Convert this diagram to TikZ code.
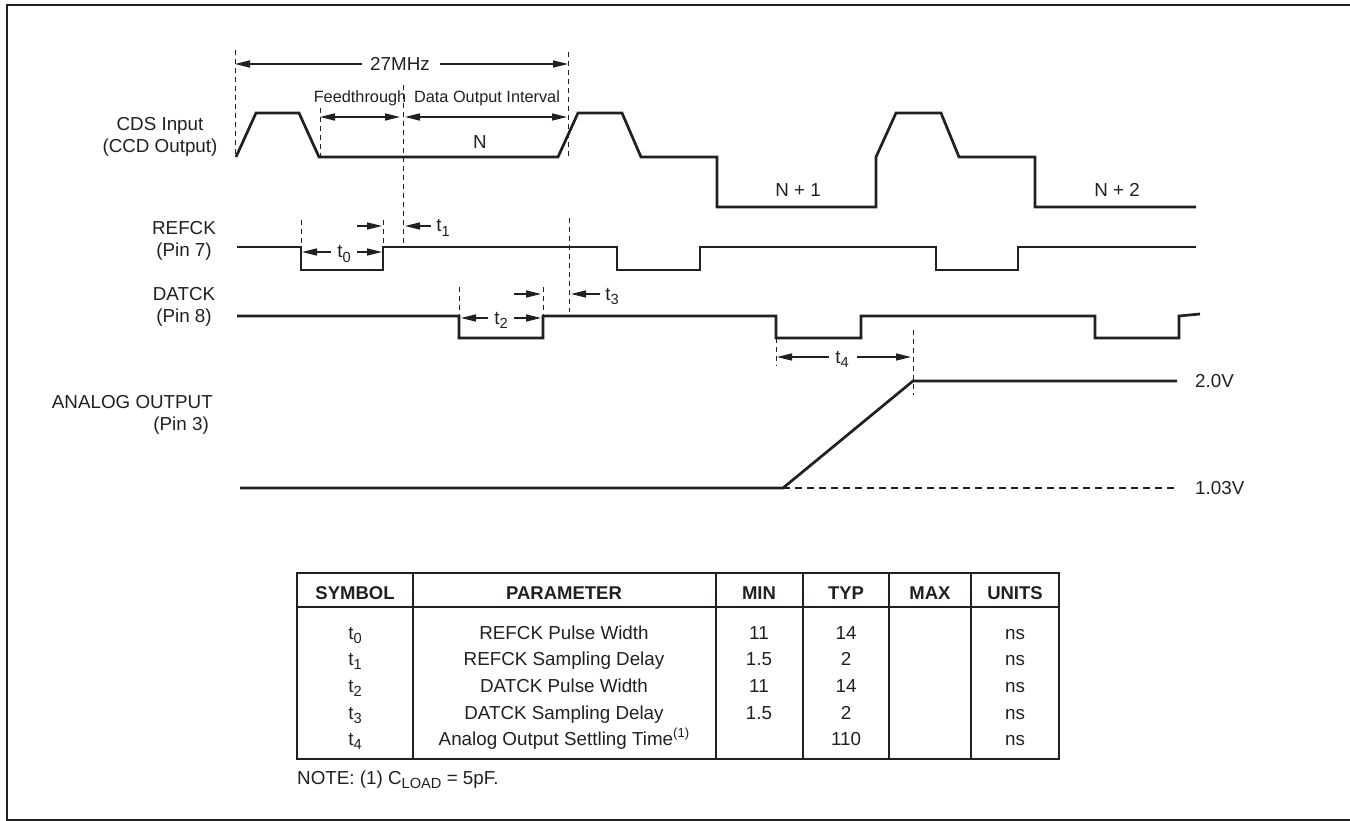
\documentclass[tikz,border=0pt]{standalone}
\usepackage{fontspec}
\setmainfont{Liberation Sans}
\usetikzlibrary{arrows.meta}
\definecolor{ink}{RGB}{35,31,32}
\newcommand{\tsub}[1]{\raisebox{-0.45ex}{\scalebox{0.78}{#1}}}
\newcommand{\tsup}[1]{\raisebox{0.75ex}{\scalebox{0.7}{#1}}}
\begin{document}
\begin{tikzpicture}[x=1pt,y=-1pt,
  wave/.style={ink,line width=2.7pt,line join=miter},
  guide/.style={ink,line width=0.9pt,dash pattern=on 5pt off 4pt},
  dim/.style={ink,line width=1.4pt,-{Triangle[length=15pt,width=7pt]}},
  ddim/.style={ink,line width=1.4pt,{Triangle[length=15pt,width=7pt]}-{Triangle[length=15pt,width=7pt]}},
  lbl/.style={text=ink,font=\fontsize{18.8}{22}\selectfont,inner sep=0pt,anchor=base},
  sm/.style={text=ink,font=\fontsize{16.3}{19}\selectfont,inner sep=0pt,anchor=base},
  tabtxt/.style={text=ink,font=\fontsize{18.8}{22}\selectfont,inner sep=0pt,anchor=base},
  tabhead/.style={text=ink,font=\fontsize{18.5}{22}\selectfont\bfseries,inner sep=0pt,anchor=base},
  heavy/.style={ink,line width=2.8pt},
  light/.style={ink,line width=1.6pt}
]
\useasboundingbox (0,0) rectangle (1350,821);
% frame
\draw[ink,line width=2.6pt] (1352,5) -- (7,5) -- (7,820) -- (1352,820);

% waveforms
\draw[wave] (236,157) -- (256,113) -- (299,113) -- (319,157) -- (558,157) -- (578,113) -- (622,113) -- (641,157) -- (717,157) -- (717,207) -- (876,207) -- (876,157) -- (896,113) -- (941,113) -- (959,157) -- (1035,157) -- (1035,207) -- (1196,207);
\draw[wave] (237,247) -- (301,247) -- (301,270) -- (383,270) -- (383,247) -- (617,247) -- (617,270) -- (700,270) -- (700,247) -- (936,247) -- (936,270) -- (1018,270) -- (1018,247) -- (1196,247);
\draw[wave] (237,316) -- (459,316) -- (459,338) -- (543,338) -- (543,316) -- (776,316) -- (776,338) -- (861,338) -- (861,316) -- (1095,316) -- (1095,338) -- (1179,338) -- (1179,316) -- (1200,314);
\draw[wave] (240,488) -- (783,488) -- (913,381) -- (1177,381);
\draw[ink,line width=2.6pt,dash pattern=on 7pt off 5pt] (783,488) -- (1177,488);

% guide lines
\draw[guide] (235,50) -- (235,158);
\draw[guide] (568,52) -- (568,156);
\draw[guide] (320,108) -- (320,157);
\draw[guide] (403,85) -- (403,247);
\draw[guide] (301,220) -- (301,247);
\draw[guide] (383,220) -- (383,247);
\draw[guide] (569,218) -- (569,312);
\draw[guide] (459,287) -- (459,316);
\draw[guide] (543,287) -- (543,316);
\draw[guide] (776,338) -- (776,366);
\draw[guide] (913,330) -- (913,395);

% dimension arrows
\node[lbl] (mhz) at (400,71) {27MHz};
\draw[dim] (362,64) -- (235,64);
\draw[dim] (440,64) -- (568,64);
\node[sm] (feed) at (360,103) {Feedthrough};
\node[sm] (doi) at (487,103) {Data Output Interval};
\draw[ddim] (320,117) -- (400,117);
\draw[ddim] (405,117) -- (567,117);
\node[lbl] (n0) at (480,149) {N};
\node[lbl] (n1) at (798,197) {N + 1};
\node[lbl] (n2) at (1117,197) {N + 2};

\node[lbl] (t0) at (344,258) {t\tsub{0}};
\draw[dim] (331,252) -- (302,252);
\draw[dim] (357,252) -- (382,252);
\draw[dim] (357,226) -- (382,226);
\draw[dim] (431,226) -- (405,226);
\node[lbl] (t1) at (443,232) {t\tsub{1}};

\node[lbl] (t2) at (501,324) {t\tsub{2}};
\draw[dim] (488,318) -- (461,318);
\draw[dim] (514,318) -- (541,318);
\draw[dim] (514,294) -- (541,294);
\draw[dim] (600,294) -- (571,294);
\node[lbl] (t3) at (612,300) {t\tsub{3}};

\node[lbl] (t4) at (842,363) {t\tsub{4}};
\draw[dim] (829,357) -- (777,357);
\draw[dim] (857,357) -- (911,357);

% signal labels
\node[lbl] (cds1) at (160,131) {CDS Input};
\node[lbl] (cds2) at (160,153) {(CCD Output)};
\node[lbl] (ref1) at (184,235) {REFCK};
\node[lbl] (ref2) at (184,257) {(Pin 7)};
\node[lbl] (dat1) at (184,300) {DATCK};
\node[lbl] (dat2) at (184,323) {(Pin 8)};
\node[lbl,anchor=base east] (ana1) at (213,408) {ANALOG OUTPUT};
\node[lbl,anchor=base east] (ana2) at (209,430) {(Pin 3)};
\node[lbl,anchor=base west] (v2) at (1195,387) {2.0V};
\node[lbl,anchor=base west] (v1) at (1195,494) {1.03V};

% table
\draw[heavy] (297,573) rectangle (1059,759);
\draw[heavy] (297,607) -- (1059,607);
\draw[heavy] (413,573) -- (413,759);
\draw[heavy] (716,573) -- (716,759);
\draw[light] (803,573) -- (803,759);
\draw[light] (889,573) -- (889,759);
\draw[heavy] (971,573) -- (971,759);

\node[tabhead] (hs) at (355,599) {SYMBOL};
\node[tabhead] (hp) at (564,599) {PARAMETER};
\node[tabhead] (hmin) at (759,599) {MIN};
\node[tabhead] (htyp) at (846,599) {TYP};
\node[tabhead] (hmax) at (930,599) {MAX};
\node[tabhead] (hu) at (1015,599) {UNITS};

\foreach \y/\s/\p/\mn/\ty in {639/0/REFCK Pulse Width/11/14, 665/1/REFCK Sampling Delay/1.5/2, 692/2/DATCK Pulse Width/11/14, 719/3/DATCK Sampling Delay/1.5/2}{
  \node[tabtxt] at (355,\y) {t\tsub{\s}};
  \node[tabtxt] at (564,\y) {\p};
  \node[tabtxt] at (759,\y) {\mn};
  \node[tabtxt] at (846,\y) {\ty};
  \node[tabtxt] at (1015,\y) {ns};
}
\node[tabtxt] (s4) at (355,745) {t\tsub{4}};
\node[tabtxt] (p4) at (564,745) {Analog Output Settling Time\tsup{(1)}};
\node[tabtxt] (ty4) at (846,745) {110};
\node[tabtxt] (u4) at (1015,745) {ns};
\node[tabtxt,anchor=base west] (note) at (297,784) {NOTE: (1) C\tsub{LOAD} = 5pF.};
\end{tikzpicture}
\end{document}
